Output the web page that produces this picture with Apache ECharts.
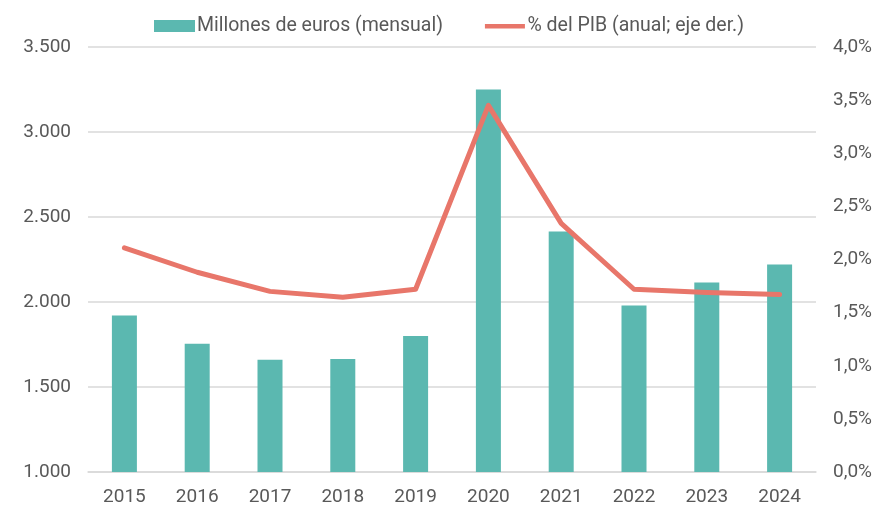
<!DOCTYPE html>
<html>
<head>
<meta charset="utf-8">
<script src="https://cdn.jsdelivr.net/npm/echarts@6/dist/echarts.min.js"></script>
<style>
html,body{margin:0;padding:0;background:#fff;}
#chart{width:881px;height:507px;}
</style>
</head>
<body>
<div id="chart"></div>
<script>
// Years on the category axis
const years = ['2015','2016','2017','2018','2019','2020','2021','2022','2023','2024'];
// Millions of euros per month (left axis)
const millonesMensual = [1920, 1755, 1660, 1665, 1800, 3250, 2415, 1980, 2115, 2220];
// Share of GDP, percent (right axis)
const pctPIB = [2.11, 1.88, 1.70, 1.645, 1.72, 3.45, 2.34, 1.72, 1.69, 1.67];

const labelFont = { color: '#595959', fontSize: 19, fontFamily: 'Roboto, sans-serif' };

function miles(v) {
  return String(Math.round(v)).replace(/\B(?=(\d{3})+(?!\d))/g, '.');
}

// thin bar icon for the line entry (tiny corner points keep the full box height)
const lineIcon = 'path://M0,0L0.05,0L0,0.05Z M0,4L40,4L40,8.5L0,8.5Z M0,12L0.05,12L0,11.95Z';

const chart = echarts.init(document.getElementById('chart'));
chart.setOption({
  animation: false,
  backgroundColor: '#ffffff',
  legend: {
    top: 11,
    left: 149,
    itemWidth: 41,
    itemHeight: 12,
    itemGap: 42,
    textStyle: { color: '#595959', fontSize: 19.5, fontFamily: 'Roboto, sans-serif', padding: [0, 0, 0, -3] },
    data: [
      { name: 'Millones de euros (mensual)', icon: 'rect' },
      { name: '% del PIB (anual; eje der.)', icon: lineIcon }
    ]
  },
  grid: { left: 88, right: 65, top: 47, bottom: 31 },
  xAxis: {
    type: 'category',
    data: years,
    axisTick: { show: false },
    axisLine: { lineStyle: { color: '#d9d9d9', width: 1.5 } },
    axisLabel: Object.assign({ margin: 16 }, labelFont)
  },
  yAxis: [
    {
      type: 'value',
      min: 1000,
      max: 3500,
      interval: 500,
      axisLine: { show: false },
      axisTick: { show: false },
      splitLine: { lineStyle: { color: '#d9d9d9', width: 1.5 } },
      axisLabel: Object.assign({ margin: 17, formatter: miles }, labelFont)
    },
    {
      type: 'value',
      min: 0,
      max: 4,
      interval: 0.5,
      position: 'right',
      axisLine: { show: false },
      axisTick: { show: false },
      splitLine: { show: false },
      axisLabel: Object.assign({
        margin: 17,
        formatter: v => v.toFixed(1).replace('.', ',') + '%'
      }, labelFont)
    }
  ],
  series: [
    {
      name: 'Millones de euros (mensual)',
      type: 'bar',
      data: millonesMensual,
      barWidth: 25,
      itemStyle: { color: '#5bb8b0' },
      yAxisIndex: 0
    },
    {
      name: '% del PIB (anual; eje der.)',
      type: 'line',
      data: pctPIB,
      yAxisIndex: 1,
      symbol: 'none',
      lineStyle: { color: '#e8766a', width: 5, join: 'round', cap: 'round' },
      itemStyle: { color: '#e8766a' }
    }
  ]
});
</script>
</body>
</html>
